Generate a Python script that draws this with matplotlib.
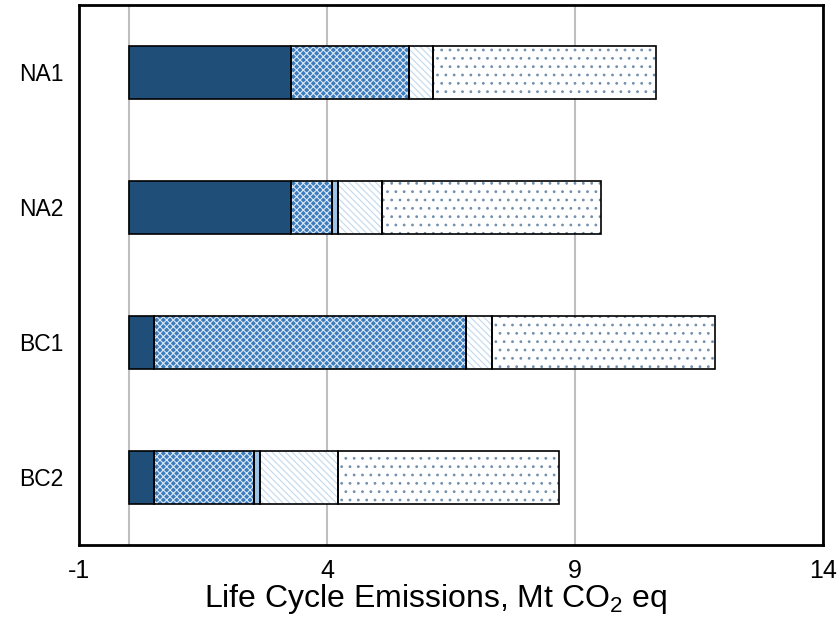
import matplotlib
matplotlib.use("Agg")
import matplotlib.pyplot as plt
import numpy as np

# scenario names, top to bottom
scenarios = ["NA1", "NA2", "BC1", "BC2"]

# emission pieces for each scenario (Mt CO2 eq)
dark_part = [3.27, 3.27, 0.52, 0.52]
checker_part = [2.39, 0.82, 6.28, 2.01]
light_part = [0.0, 0.13, 0.0, 0.12]
stripe_part = [0.47, 0.88, 0.52, 1.57]
dot_part = [4.50, 4.42, 4.49, 4.46]

x_ticks = [-1, 4, 9, 14]


def main():
    plt.rcParams["font.family"] = ["Liberation Sans", "DejaVu Sans"]
    plt.rcParams["mathtext.default"] = "regular"
    plt.rcParams["axes.unicode_minus"] = False
    plt.rcParams["hatch.linewidth"] = 0.8

    fig = plt.figure(figsize=(8.38, 6.2), dpi=100)
    ax = fig.add_axes([0.0943, 0.121, 0.888, 0.871])

    ypos = np.arange(len(scenarios))
    h = 0.39

    # fill style of each piece: face colour, hatch, hatch colour
    styles = [
        ("#1f4e79", None, None),
        ("#3d7cbc", "xxxxx", "#dbe8f5"),
        ("#9dc3e6", None, None),
        ("#ffffff", "\\\\\\\\\\", "#c3d9ee"),
        ("#ffffff", "..", "#7290ae"),
    ]
    parts = [dark_part, checker_part, light_part, stripe_part, dot_part]

    left = np.zeros(len(scenarios))
    for vals, (face, hatch, hcol) in zip(parts, styles):
        vals = np.array(vals)
        # the fill and hatch first, then a black outline on top
        ax.barh(ypos, vals, height=h, left=left, color=face,
                hatch=hatch, edgecolor=hcol if hcol else face,
                linewidth=0, zorder=2)
        ax.barh(ypos, vals, height=h, left=left, fill=False,
                edgecolor="black", linewidth=1.2, zorder=3)
        left = left + vals

    ax.set_xlim(-1, 14)
    ax.set_ylim(3.5, -0.5)
    ax.set_xticks(x_ticks)
    ax.set_yticks(ypos)
    ax.set_yticklabels(scenarios)
    ax.tick_params(axis="both", length=0)
    ax.tick_params(axis="y", pad=11, labelsize=16.5)
    ax.tick_params(axis="x", pad=10, labelsize=18)

    # gray vertical lines, one of them at zero
    ax.grid(axis="x", color="#bfbfbf", linewidth=1.5, zorder=0)
    ax.axvline(0, color="#bfbfbf", linewidth=1.5, zorder=0)
    ax.set_axisbelow(True)

    for s in ax.spines.values():
        s.set_linewidth(2)
        s.set_color("black")

    ax.set_xlabel("Life Cycle Emissions, Mt CO$_2$ eq", fontsize=23)
    ax.xaxis.set_label_coords(0.48, -0.068)

    plt.savefig("out.png", dpi=100)


main()
